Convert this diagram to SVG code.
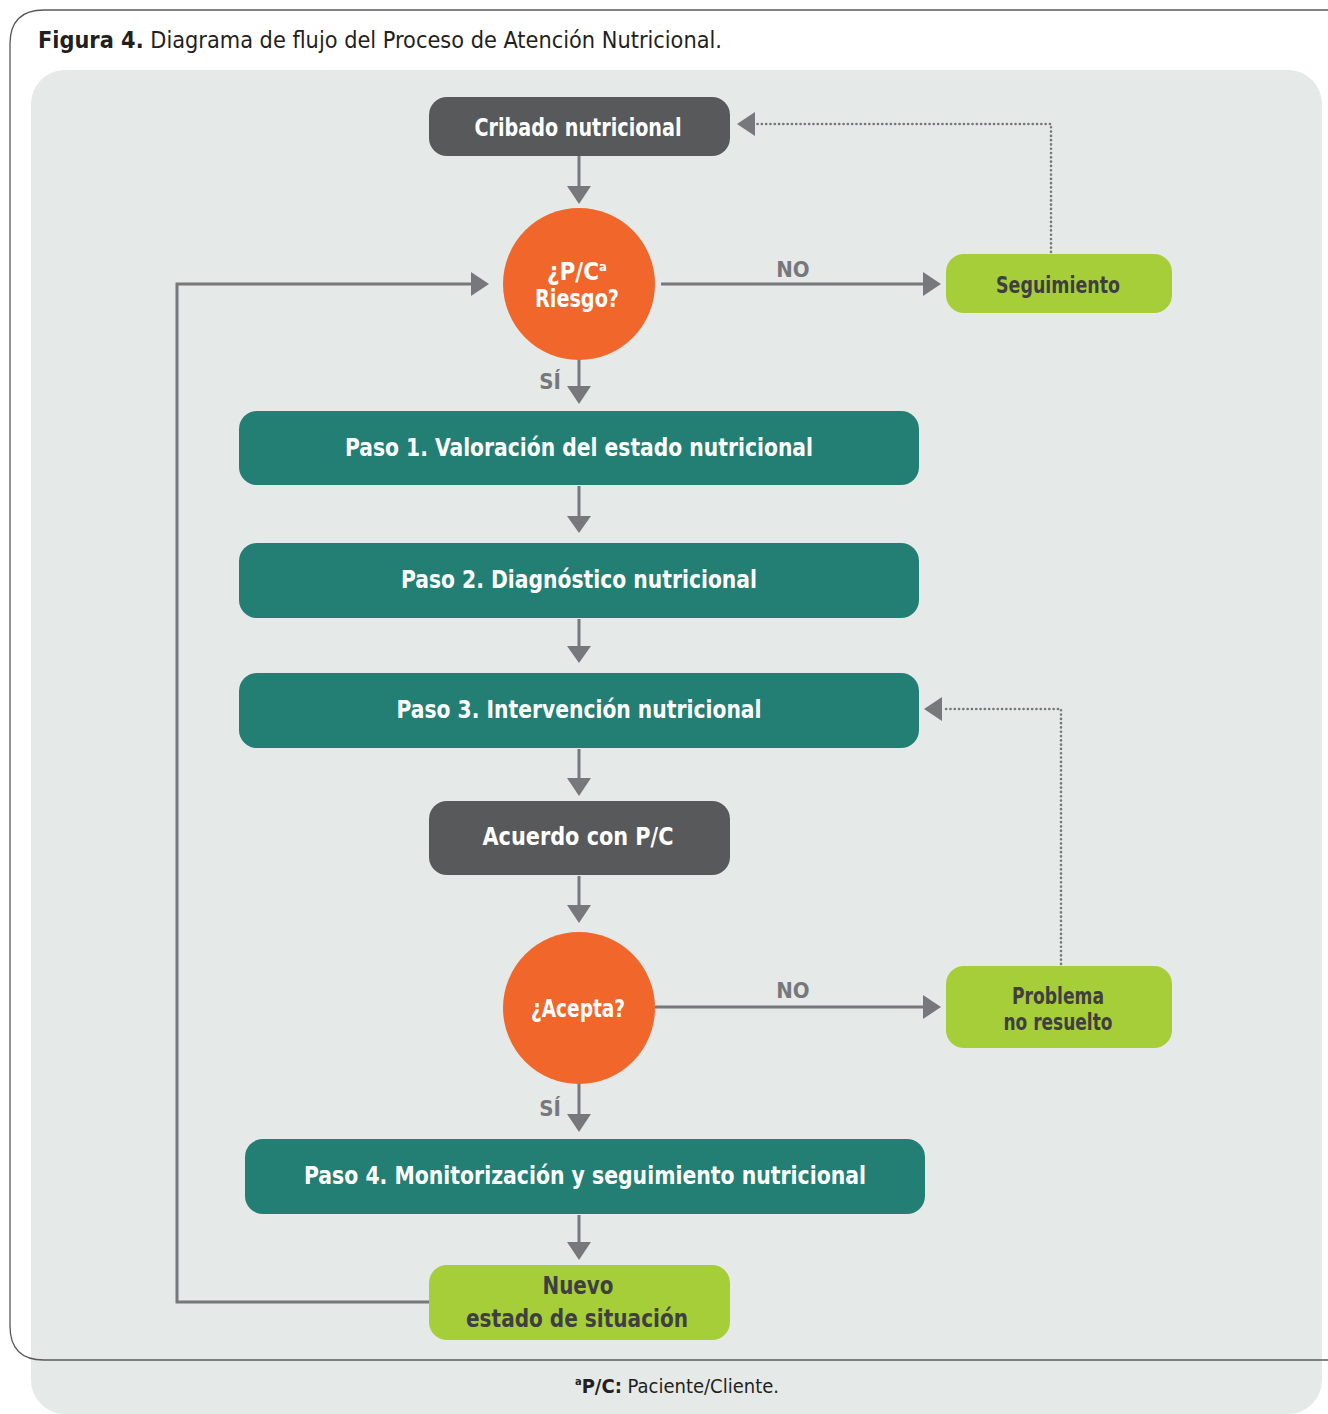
<svg xmlns="http://www.w3.org/2000/svg" width="1328" height="1414" viewBox="0 0 1328 1414">
  <style>
    .lbl { font-family: "Liberation Sans Narrow", "DejaVu Sans Condensed", "Liberation Sans", sans-serif; font-weight: bold; text-anchor: middle; }
    .w { fill: #ffffff; }
    .d { fill: #3f3f41; }
    .g { fill: #77787b; }
    .flow { stroke: #77787b; stroke-width: 3; fill: none; }
    .dot { stroke: #77787b; stroke-width: 2.6; fill: none; stroke-dasharray: 0.1 4.2; stroke-linecap: round; }
    .head { fill: #77787b; }
    .cap { font-family: "Liberation Sans Narrow", "DejaVu Sans Condensed", "Liberation Sans", sans-serif; fill: #231f20; }
  </style>

  <!-- page background and frame -->
  <rect x="0" y="0" width="1328" height="1414" fill="#ffffff"/>
  <rect x="31" y="70" width="1291" height="1344" rx="34" fill="#e5e9e8"/>
  <path d="M 1340 1360 L 44 1360 Q 10 1360 10 1326 L 10 44 Q 10 10 44 10 L 1340 10" fill="none" stroke="#58595b" stroke-width="1.3"/>

  <!-- caption -->
  <text class="cap" x="38" y="48" font-size="23" textLength="684" lengthAdjust="spacingAndGlyphs"><tspan font-weight="bold">Figura 4.</tspan> Diagrama de flujo del Proceso de Atención Nutricional.</text>

  <!-- connectors -->
  <g id="connectors">
    <!-- Cribado -> ¿Riesgo? -->
    <line class="flow" x1="579" y1="156" x2="579" y2="188"/>
    <polygon class="head" points="567,186 591,186 579,204"/>
    <!-- loop back from Nuevo estado -->
    <polyline class="flow" points="429,1302 177,1302 177,284 472,284"/>
    <polygon class="head" points="471,272 471,296 489,284"/>
    <!-- NO -> Seguimiento -->
    <line class="flow" x1="661" y1="284" x2="925" y2="284"/>
    <polygon class="head" points="923,272 923,296 941,284"/>
    <text class="lbl g" x="793" y="277" font-size="22">NO</text>
    <!-- Seguimiento -> Cribado (dotted) -->
    <polyline class="dot" points="1051,252 1051,124 757,124"/>
    <polygon class="head" points="755,112 755,136 737,124"/>
    <!-- SÍ -> Paso 1 -->
    <line class="flow" x1="579" y1="359" x2="579" y2="388"/>
    <polygon class="head" points="567,386 591,386 579,404"/>
    <text class="lbl g" x="550" y="389" font-size="22">SÍ</text>
    <!-- Paso 1 -> Paso 2 -->
    <line class="flow" x1="579" y1="486" x2="579" y2="518"/>
    <polygon class="head" points="567,516 591,516 579,533"/>
    <!-- Paso 2 -> Paso 3 -->
    <line class="flow" x1="579" y1="619" x2="579" y2="648"/>
    <polygon class="head" points="567,646 591,646 579,663"/>
    <!-- Paso 3 -> Acuerdo -->
    <line class="flow" x1="579" y1="749" x2="579" y2="780"/>
    <polygon class="head" points="567,778 591,778 579,796"/>
    <!-- Acuerdo -> ¿Acepta? -->
    <line class="flow" x1="579" y1="876" x2="579" y2="907"/>
    <polygon class="head" points="567,905 591,905 579,923"/>
    <!-- NO -> Problema no resuelto -->
    <line class="flow" x1="655" y1="1007" x2="925" y2="1007"/>
    <polygon class="head" points="923,995 923,1019 941,1007"/>
    <text class="lbl g" x="793" y="998" font-size="22">NO</text>
    <!-- Problema -> Paso 3 (dotted) -->
    <polyline class="dot" points="1061,964 1061,709 946,709"/>
    <polygon class="head" points="942,697 942,721 924,709"/>
    <!-- SÍ -> Paso 4 -->
    <line class="flow" x1="579" y1="1083" x2="579" y2="1116"/>
    <polygon class="head" points="567,1114 591,1114 579,1132"/>
    <text class="lbl g" x="550" y="1116" font-size="22">SÍ</text>
    <!-- Paso 4 -> Nuevo estado -->
    <line class="flow" x1="579" y1="1215" x2="579" y2="1244"/>
    <polygon class="head" points="567,1242 591,1242 579,1260"/>
  </g>

  <!-- nodes -->
  <g id="cribado">
    <rect x="429" y="97" width="301" height="59" rx="18" fill="#58595b"/>
    <text class="lbl w" x="578" y="136" font-size="25" textLength="207" lengthAdjust="spacingAndGlyphs">Cribado nutricional</text>
  </g>

  <g id="riesgo">
    <ellipse cx="579" cy="284" rx="76" ry="76" fill="#f1662a"/>
    <text class="lbl w" x="577" y="280" font-size="24">¿P/C<tspan font-size="13" dy="-9">a</tspan></text>
    <text class="lbl w" x="577" y="307" font-size="24" textLength="84" lengthAdjust="spacingAndGlyphs">Riesgo?</text>
  </g>

  <g id="seguimiento">
    <rect x="946" y="254" width="226" height="59" rx="18" fill="#a6ce39"/>
    <text class="lbl d" x="1058" y="293" font-size="23" textLength="124" lengthAdjust="spacingAndGlyphs">Seguimiento</text>
  </g>

  <g id="paso1">
    <rect x="239" y="411" width="680" height="74" rx="18" fill="#237f73"/>
    <text class="lbl w" x="579" y="456" font-size="25" textLength="468" lengthAdjust="spacingAndGlyphs">Paso 1. Valoración del estado nutricional</text>
  </g>

  <g id="paso2">
    <rect x="239" y="543" width="680" height="75" rx="18" fill="#237f73"/>
    <text class="lbl w" x="579" y="588" font-size="25" textLength="356" lengthAdjust="spacingAndGlyphs">Paso 2. Diagnóstico nutricional</text>
  </g>

  <g id="paso3">
    <rect x="239" y="673" width="680" height="75" rx="18" fill="#237f73"/>
    <text class="lbl w" x="579" y="718" font-size="25" textLength="365" lengthAdjust="spacingAndGlyphs">Paso 3. Intervención nutricional</text>
  </g>

  <g id="acuerdo">
    <rect x="429" y="801" width="301" height="74" rx="18" fill="#58595b"/>
    <text class="lbl w" x="578" y="845" font-size="25" textLength="191" lengthAdjust="spacingAndGlyphs">Acuerdo con P/C</text>
  </g>

  <g id="acepta">
    <circle cx="579" cy="1008" r="76" fill="#f1662a"/>
    <text class="lbl w" x="578" y="1017" font-size="24" textLength="94" lengthAdjust="spacingAndGlyphs">¿Acepta?</text>
  </g>

  <g id="problema">
    <rect x="946" y="966" width="226" height="82" rx="18" fill="#a6ce39"/>
    <text class="lbl d" x="1058" y="1004" font-size="23" textLength="92" lengthAdjust="spacingAndGlyphs">Problema</text>
    <text class="lbl d" x="1058" y="1030" font-size="23" textLength="109" lengthAdjust="spacingAndGlyphs">no resuelto</text>
  </g>

  <g id="paso4">
    <rect x="245" y="1139" width="680" height="75" rx="18" fill="#237f73"/>
    <text class="lbl w" x="585" y="1184" font-size="25" textLength="562" lengthAdjust="spacingAndGlyphs">Paso 4. Monitorización y seguimiento nutricional</text>
  </g>

  <g id="nuevo">
    <rect x="429" y="1265" width="301" height="75" rx="18" fill="#a6ce39"/>
    <text class="lbl d" x="578" y="1294" font-size="25" textLength="71" lengthAdjust="spacingAndGlyphs">Nuevo</text>
    <text class="lbl d" x="577" y="1327" font-size="25" textLength="222" lengthAdjust="spacingAndGlyphs">estado de situación</text>
  </g>

  <!-- footnote -->
  <text class="cap" x="575" y="1393" font-size="20"><tspan font-size="11" dy="-8" font-weight="bold">a</tspan><tspan dy="8" font-weight="bold">P/C:</tspan> Paciente/Cliente.</text>
</svg>
